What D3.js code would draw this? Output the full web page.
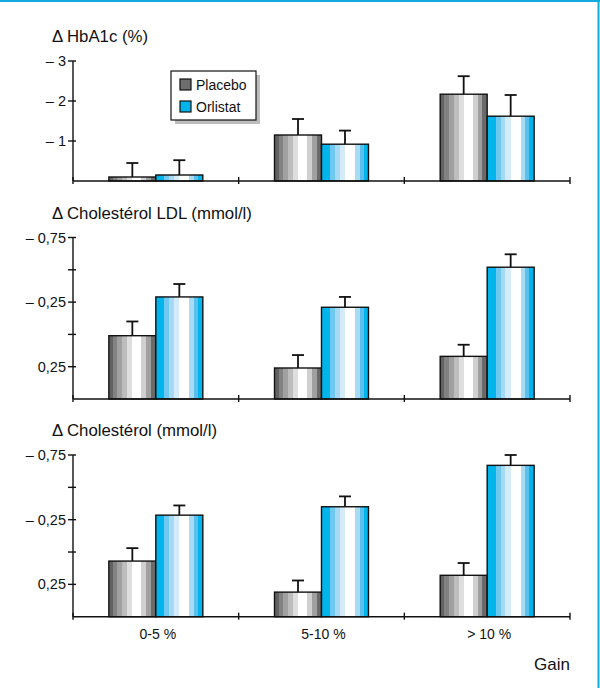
<!DOCTYPE html>
<html lang="fr">
<head>
    <meta charset="UTF-8">
    <title>Orlistat</title>
    <script src="https://d3js.org/d3.v7.min.js"></script>
    <style>
        body, html {
            margin: 0;
            padding: 0;
            background-color: #ffffff;
        }
        svg text {
            font-family: 'Liberation Sans', Arial, sans-serif;
            fill: #111;
        }
    </style>
</head>
<body>
<svg id="chart" width="600" height="688"></svg>

<script>
    // categories
    const groups = ["0-5 %", "5-10 %", "> 10 %"];
    const series = ["Placebo", "Orlistat"];

    // Δ HbA1c (%)
    const hba1cPlacebo = [-0.10, -1.15, -2.17];
    const hba1cPlaceboErr = [0.35, 0.40, 0.45];
    const hba1cOrlistat = [-0.15, -0.92, -1.62];
    const hba1cOrlistatErr = [0.37, 0.34, 0.53];
    const hba1cTicks = [-1, -2, -3];
    const hba1cTickLabels = ["\u2013 1", "\u2013 2", "\u2013 3"];

    // Δ Cholestérol LDL (mmol/l)
    const ldlPlacebo = [0.01, 0.26, 0.17];
    const ldlPlaceboErr = [0.11, 0.10, 0.09];
    const ldlOrlistat = [-0.29, -0.21, -0.52];
    const ldlOrlistatErr = [0.10, 0.08, 0.10];

    // Δ Cholestérol (mmol/l)
    const cholPlacebo = [0.07, 0.31, 0.18];
    const cholPlaceboErr = [0.10, 0.09, 0.095];
    const cholOrlistat = [-0.285, -0.35, -0.67];
    const cholOrlistatErr = [0.075, 0.08, 0.08];

    const mmolTicks = [0.25, 0, -0.25, -0.5, -0.75];
    const mmolTickLabels = ["0,25", "", "\u2013 0,25", "", "\u2013 0,75"];

    const svg = d3.select("#chart");

    // cadre bleu
    svg.append("line").attr("x1", 0).attr("x2", 600).attr("y1", 1).attr("y2", 1)
        .attr("stroke", "#12a9e0").attr("stroke-width", 2);
    svg.append("line").attr("x1", 598.5).attr("x2", 598.5).attr("y1", 0).attr("y2", 688)
        .attr("stroke", "#12a9e0").attr("stroke-width", 2);

    // stripes
    const defs = svg.append("defs");
    function stripes(id, bands) {
        const g = defs.append("linearGradient").attr("id", id)
            .attr("x1", 0).attr("x2", 1).attr("y1", 0).attr("y2", 0);
        let prev = 0;
        bands.forEach(([end, col]) => {
            g.append("stop").attr("offset", prev).attr("stop-color", col);
            g.append("stop").attr("offset", end).attr("stop-color", col);
            prev = end;
        });
    }
    stripes("gPlacebo", [[0.085, "#626262"], [0.18, "#828282"], [0.29, "#a0a0a0"], [0.39, "#bdbdbd"],
        [0.5, "#dedede"], [0.69, "#ffffff"], [0.8, "#d0d0d0"], [0.9, "#a0a0a0"], [1, "#6a6a6a"]]);
    stripes("gOrlistat", [[0.18, "#00b4ec"], [0.29, "#6ec8f0"], [0.39, "#a6daf4"], [0.5, "#d4ecf9"],
        [0.71, "#ffffff"], [0.81, "#a8dcf5"], [0.9, "#5cc0ee"], [1, "#00b4ec"]]);
    const fills = ["url(#gPlacebo)", "url(#gOrlistat)"];

    const x = d3.scaleBand().domain(groups).range([73, 570]).paddingInner(0).paddingOuter(0);
    const xs = d3.scaleBand().domain(series).range([0, x.bandwidth()]).paddingInner(0).paddingOuter(0.763);

    function panel(cfg) {
        const y = d3.scaleLinear().domain(cfg.domain).range(cfg.range);
        const g = svg.append("g");
        const base = y(cfg.domain[0]);

        g.append("text").attr("x", 52).attr("y", cfg.titleY)
            .attr("font-size", 16.8).text(cfg.title);

        // bars
        const rows = [];
        groups.forEach((grp, i) => {
            series.forEach((s, k) => {
                rows.push({grp, s, k, v: cfg.values[k][i], e: cfg.errors[k][i]});
            });
        });

        const bx = d => x(d.grp) + xs(d.s);
        const cx = d => bx(d) + xs.bandwidth() / 2;

        g.selectAll(".err").data(rows).join("line")
            .attr("x1", cx).attr("x2", cx)
            .attr("y1", d => y(d.v)).attr("y2", d => y(d.v - d.e))
            .attr("stroke", "#111").attr("stroke-width", 1.8);
        g.selectAll(".cap").data(rows).join("line")
            .attr("x1", d => cx(d) - 6).attr("x2", d => cx(d) + 6)
            .attr("y1", d => y(d.v - d.e)).attr("y2", d => y(d.v - d.e))
            .attr("stroke", "#111").attr("stroke-width", 1.8);

        g.selectAll(".bar").data(rows).join("rect")
            .attr("x", bx).attr("width", xs.bandwidth())
            .attr("y", d => y(d.v)).attr("height", d => base - y(d.v))
            .attr("fill", d => fills[d.k])
            .attr("stroke", "#111").attr("stroke-width", 1.4);

        // y axis
        g.append("line").attr("x1", 73).attr("x2", 73)
            .attr("y1", y(cfg.domain[1])).attr("y2", base)
            .attr("stroke", "#111").attr("stroke-width", 1.4);
        g.selectAll(".yt").data(cfg.ticks).join("line")
            .attr("x1", 68).attr("x2", 76)
            .attr("y1", d => y(d)).attr("y2", d => y(d))
            .attr("stroke", "#111").attr("stroke-width", 1.4);
        g.selectAll(".yl").data(cfg.ticks).join("text")
            .attr("x", 66).attr("y", d => y(d) + 5)
            .attr("text-anchor", "end").attr("font-size", 14.5)
            .text((d, i) => cfg.tickLabels[i]);

        // x axis
        g.append("line").attr("x1", 73).attr("x2", 570)
            .attr("y1", base).attr("y2", base)
            .attr("stroke", "#111").attr("stroke-width", 1.6);
        const edges = groups.map(d => x(d)).concat([x.range()[1]]);
        g.selectAll(".xt").data(edges).join("line")
            .attr("x1", d => d).attr("x2", d => d)
            .attr("y1", base - 4).attr("y2", base + 3)
            .attr("stroke", "#111").attr("stroke-width", 1.4);
        return base;
    }

    panel({
        title: "\u0394 HbA1c (%)", titleY: 42,
        domain: [0, -3], range: [181, 61],
        ticks: hba1cTicks, tickLabels: hba1cTickLabels,
        values: [hba1cPlacebo, hba1cOrlistat], errors: [hba1cPlaceboErr, hba1cOrlistatErr]
    });
    panel({
        title: "\u0394 Cholest\u00e9rol LDL (mmol/l)", titleY: 219,
        domain: [0.5, -0.75], range: [399, 237.5],
        ticks: mmolTicks, tickLabels: mmolTickLabels,
        values: [ldlPlacebo, ldlOrlistat], errors: [ldlPlaceboErr, ldlOrlistatErr]
    });
    const base3 = panel({
        title: "\u0394 Cholest\u00e9rol (mmol/l)", titleY: 436,
        domain: [0.5, -0.75], range: [616.7, 455],
        ticks: mmolTicks, tickLabels: mmolTickLabels,
        values: [cholPlacebo, cholOrlistat], errors: [cholPlaceboErr, cholOrlistatErr]
    });

    // x labels
    svg.selectAll(".xl").data(groups).join("text")
        .attr("x", d => x(d) + x.bandwidth() / 2 + 2)
        .attr("y", base3 + 22)
        .attr("text-anchor", "middle").attr("font-size", 14)
        .text(d => d);
    svg.append("text").attr("x", 570).attr("y", 670)
        .attr("text-anchor", "end").attr("font-size", 17).text("Gain");

    // legend
    const lg = svg.append("g").attr("transform", "translate(171,71)");
    lg.append("rect").attr("x", 4).attr("y", 4).attr("width", 85).attr("height", 49).attr("fill", "#bdbdbd");
    lg.append("rect").attr("width", 85).attr("height", 49).attr("fill", "#fff")
        .attr("stroke", "#111").attr("stroke-width", 1.2);
    const legendFill = ["#6e6e6e", "#00b4ec"];
    series.forEach((s, i) => {
        lg.append("rect").attr("x", 9).attr("y", 8 + i * 22).attr("width", 11).attr("height", 11)
            .attr("fill", legendFill[i]).attr("stroke", "#111").attr("stroke-width", 1.2);
        lg.append("text").attr("x", 25).attr("y", 19 + i * 22)
            .attr("font-size", 14).text(s);
    });
</script>
</body>
</html>
